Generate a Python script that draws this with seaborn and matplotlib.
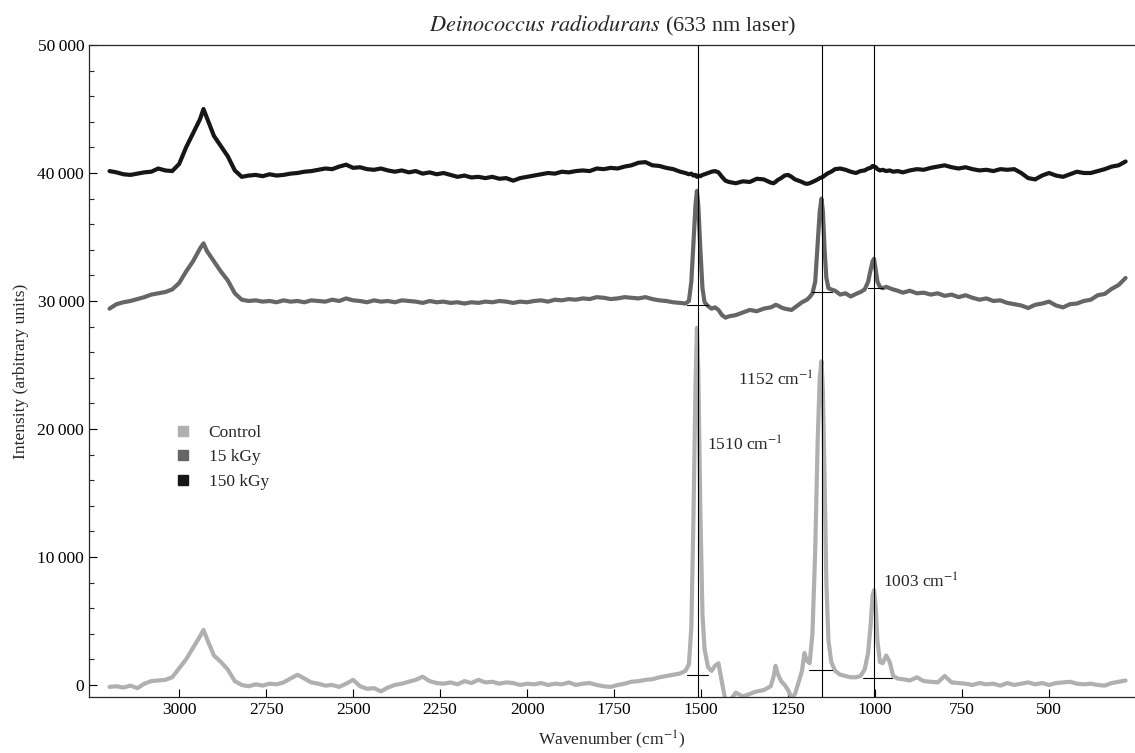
import numpy as np
import pandas as pd
import matplotlib
matplotlib.use("Agg")
import matplotlib.pyplot as plt
from matplotlib.lines import Line2D
import seaborn as sns

# Raman spectra of D. radiodurans
wavenumber = [
    3200, 3180, 3160, 3140, 3120, 3100, 3080, 3060, 3040, 3020, 3000, 2980, 2960, 2940, 2930,
    2920, 2900, 2880, 2860, 2840, 2820, 2800, 2780, 2760, 2740, 2720, 2700, 2680, 2660, 2640,
    2620, 2600, 2580, 2560, 2540, 2520, 2500, 2480, 2460, 2440, 2420, 2400, 2380, 2360, 2340,
    2320, 2300, 2280, 2260, 2240, 2220, 2200, 2180, 2160, 2140, 2120, 2100, 2080, 2060, 2040,
    2020, 2000, 1980, 1960, 1940, 1920, 1900, 1880, 1860, 1840, 1820, 1800, 1780, 1760, 1740,
    1720, 1700, 1680, 1660, 1640, 1620, 1600, 1580, 1560,
    1545, 1535, 1528, 1522, 1516, 1512, 1508, 1502, 1496, 1490, 1480, 1470, 1460, 1450, 1440,
    1430, 1420, 1400, 1380, 1360, 1340, 1320, 1300, 1292, 1286, 1280, 1270, 1260, 1250, 1240,
    1230, 1220, 1210, 1203, 1196, 1188, 1180, 1172, 1165, 1159, 1154, 1150, 1145, 1140, 1134,
    1126, 1115, 1100, 1085, 1070, 1055, 1042, 1030, 1020, 1013, 1007, 1003, 998, 993, 986,
    978, 968, 958, 948, 935, 920, 900, 880,
    860, 840, 820, 800, 780, 760, 740, 720, 700, 680, 660, 640, 620, 600, 580,
    560, 540, 520, 500, 480, 460, 440, 420, 400, 380, 360, 340, 320, 300, 280,
]

control = [
    -150, -100, -200, -50, -250, 100, 300, 350, 400, 600, 1300, 2000, 2900, 3800, 4300,
    3600, 2300, 1800, 1200, 300, 0, -100, 50, -50, 100, 50, 200, 500, 800, 500,
    200, 100, -50, 0, -150, 100, 400, -100, -300, -250, -500, -200, 0, 100, 250,
    400, 650, 300, 150, 100, 200, 50, 300, 150, 400, 200, 250, 100, 200, 150,
    0, 100, 50, 150, 0, 100, 50, 200, 0, 100, 150, 0, -100, -150, 0,
    100, 250, 300, 400, 450, 600, 700, 800, 900,
    1100, 1600, 4500, 13000, 23500, 27900, 24500, 13500, 5500, 2800, 1400, 1100, 1500, 1700, 200,
    -1200, -1300, -600, -900, -700, -500, -400, -100, 600, 1500, 900, 300, 0, -400, -1000,
    -700, 200, 1100, 2500, 1900, 1700, 4000, 10500, 19000, 24000, 25300, 23000, 16000, 8000, 3500,
    1800, 1100, 800, 700, 600, 600, 700, 1200, 2500, 4600, 7000, 7400, 6000, 3400, 1800,
    1700, 2300, 1800, 700, 500, 450, 350, 600,
    300, 250, 200, 700, 200, 150, 100, 0, 150, 50, 100, -50, 150, 0, 100,
    200, 50, 150, 0, 150, 200, 250, 100, 50, 100, 0, -50, 150, 250, 350,
]

kgy15 = [
    29400, 29750, 29900, 30000, 30150, 30300, 30500, 30600, 30700, 30900, 31400, 32300, 33100, 34100, 34500,
    33900, 33100, 32300, 31600, 30600, 30100, 30000, 30050, 29950, 30000, 29900, 30050, 29950, 30000, 29900,
    30050, 30000, 29950, 30100, 30000, 30200, 30050, 30000, 29900, 30050, 29950, 30000, 29900, 30050, 30000,
    29950, 29850, 30000, 29900, 29950, 29850, 29900, 29800, 29900, 29850, 29950, 29900, 30000, 29950, 29850,
    29950, 29900, 30000, 30050, 29950, 30100, 30050, 30150, 30100, 30200, 30150, 30300, 30250, 30150, 30200,
    30300, 30250, 30200, 30300, 30150, 30050, 30000, 29900, 29850,
    29800, 30000, 31500, 34500, 37500, 38600, 37500, 34000, 31000, 29900, 29600, 29400, 29500, 29300, 28900,
    28700, 28800, 28900, 29100, 29300, 29200, 29400, 29500, 29600, 29700, 29650, 29500, 29400, 29350, 29300,
    29500, 29700, 29900, 30000, 30100, 30300, 30600, 31500, 34500, 37000, 38000, 37000, 34000, 31800, 31000,
    30900, 30800, 30500, 30600, 30350, 30550, 30700, 30900, 31500, 32400, 33100, 33300, 32400, 31500, 31100,
    31000, 31100, 31000, 30900, 30800, 30650, 30800, 30600,
    30650, 30500, 30600, 30400, 30500, 30300, 30450, 30250, 30100, 30200, 30000, 30050, 29850, 29750, 29650,
    29450, 29700, 29800, 29950, 29650, 29500, 29750, 29800, 30000, 30100, 30450, 30550, 30950, 31250, 31800,
]

kgy150 = [
    40150, 40050, 39900, 39850, 39950, 40050, 40100, 40350, 40200, 40150, 40700, 42000, 43100, 44200, 45000,
    44300, 42900, 42100, 41300, 40200, 39700, 39800, 39850, 39750, 39900, 39800, 39850, 39950, 40000, 40100,
    40150, 40250, 40350, 40300, 40500, 40650, 40400, 40450, 40300, 40250, 40350, 40200, 40100, 40200, 40050,
    40150, 39950, 40050, 39900, 40000, 39850, 39700, 39800, 39650, 39700, 39600, 39700, 39550, 39600, 39400,
    39600, 39700, 39800, 39900, 40000, 39950, 40100, 40050, 40150, 40200, 40150, 40350, 40300, 40400, 40350,
    40500, 40600, 40800, 40850, 40600, 40550, 40400, 40300, 40100,
    40000, 39900, 39950, 39800, 39850, 39700, 39800, 39750, 39850, 39900, 40000, 40100, 40150, 40050, 39700,
    39400, 39300, 39200, 39350, 39300, 39550, 39500, 39250, 39200, 39300, 39450, 39600, 39800, 39850, 39700,
    39500, 39400, 39300, 39200, 39150, 39200, 39300, 39400, 39500, 39600, 39650, 39700, 39800, 39900, 40000,
    40100, 40300, 40350, 40250, 40100, 40000, 40150, 40200, 40350, 40400, 40550, 40500, 40450, 40300, 40200,
    40250, 40150, 40200, 40100, 40150, 40050, 40200, 40300,
    40250, 40400, 40500, 40600, 40450, 40350, 40450, 40300, 40200, 40250, 40150, 40300, 40250, 40300, 40000,
    39600, 39500, 39800, 40000, 39800, 39700, 39900, 40100, 40000, 40000, 40150, 40300, 40500, 40600, 40900,
]

series_names = ["Control", "15 kGy", "150 kGy"]
series_colors = ["#b0b0b0", "#666666", "#161616"]

# marked bands and their baseline segments (start, end, level) for Control / 15 kGy
band_positions = [1510, 1152, 1003]
band_labels = ["1510 cm$^{-1}$", "1152 cm$^{-1}$", "1003 cm$^{-1}$"]
label_x = [1483, 1394, 977]
label_y = [18700, 23800, 8000]
base_start = [1540, 1190, 1034, 1540, 1180, 1020]
base_end = [1480, 1124, 951, 1480, 1125, 977]
base_level = [800, 1150, 550, 29700, 30700, 31000]

df = pd.concat([
    pd.DataFrame({"wavenumber": wavenumber, "intensity": vals, "sample": name})
    for name, vals in zip(series_names, [control, kgy15, kgy150])
])

sns.set_style("ticks")
plt.rcParams["font.family"] = ["Liberation Serif", "DejaVu Serif"]
plt.rcParams["mathtext.fontset"] = "stix"

fig = plt.figure(figsize=(11.35, 7.53), dpi=100)
ax = fig.add_axes([89 / 1135, 56 / 753, 1046 / 1135, 652 / 753])

sns.lineplot(data=df, x="wavenumber", y="intensity", hue="sample",
             hue_order=series_names, palette=series_colors, estimator=None,
             linewidth=3.0, legend=False, ax=ax)

for b in band_positions:
    ax.axvline(b, color="black", linewidth=0.8, zorder=5)
for s, e, lv in zip(base_start, base_end, base_level):
    ax.plot([s, e], [lv, lv], color="black", linewidth=0.8, zorder=5)
for txt, tx, ty in zip(band_labels, label_x, label_y):
    ax.text(tx, ty, txt, fontsize=12.5, va="center", ha="left")

ax.set_xlim(3259, 253)
ax.set_ylim(-940, 50000)
ax.set_xticks([3000, 2750, 2500, 2250, 2000, 1750, 1500, 1250, 1000, 750, 500])
ax.set_yticks([0, 10000, 20000, 30000, 40000, 50000])
ax.set_yticks(np.arange(0, 50001, 2000), minor=True)
ax.set_yticklabels([f"{v:,}".replace(",", "\u2009") for v in [0, 10000, 20000, 30000, 40000, 50000]])
ax.tick_params(axis="both", which="major", direction="in", length=6, width=0.8,
               labelsize=12.5, colors="black")
ax.tick_params(axis="y", which="minor", direction="in", length=3.5, width=0.8)
ax.spines["right"].set_visible(False)
for sp in ["left", "bottom", "top"]:
    ax.spines[sp].set_linewidth(0.9)

ax.set_xlabel("Wavenumber (cm$^{-1}$)", fontsize=12.5, labelpad=8)
ax.set_ylabel("Intensity (arbitrary units)", fontsize=12.5, labelpad=6)
ax.set_title("$\\it{Deinococcus\\ radiodurans}$ (633 nm laser)", fontsize=16, pad=10)

handles = [Line2D([], [], linestyle="none", marker="s", markersize=7,
                  markerfacecolor=c, markeredgecolor=c) for c in series_colors]
ax.legend(handles, series_names, loc="upper left", bbox_to_anchor=(0.058, 0.442),
          frameon=False, fontsize=12.5, handletextpad=0.5, labelspacing=0.5)

fig.savefig("out.png", dpi=100)
